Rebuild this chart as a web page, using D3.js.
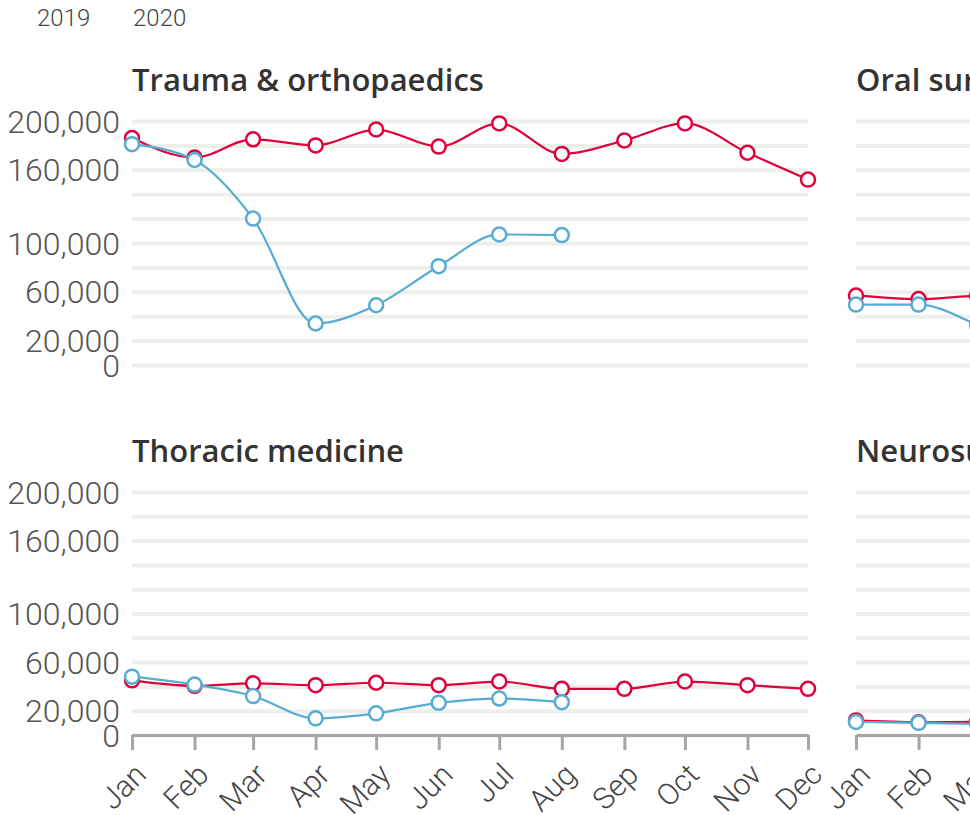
<!DOCTYPE html>
<html>
  <head>
  <title>Monthly activity</title>
  <style>
    body, html { margin: 0; padding: 0; background: #fff; }
    svg { display: block; }
    text { font-family: Roboto, "Liberation Sans", sans-serif; }
    text.title { font-family: "Open Sans", Roboto, sans-serif; }
  </style>
  </head>
  <body>

  <svg id="svg" width="970" height="815"></svg>

  <script src="https://d3js.org/d3.v7.min.js"></script>
  <script>
    // data
    const months = ['Jan', 'Feb', 'Mar', 'Apr', 'May', 'Jun', 'Jul', 'Aug', 'Sep', 'Oct', 'Nov', 'Dec']
    const years = ['2019', '2020']
    const specialties = ['Trauma & orthopaedics', 'Oral surgery', 'Thoracic medicine', 'Neurosurgery']

    const trauma2019 = [186000, 170000, 185000, 180000, 193000, 179000, 198000, 173000, 184000, 198000, 174000, 152000]
    const trauma2020 = [181000, 168000, 120000, 34000, 49000, 81000, 107000, 106500]
    const oral2019 = [57000, 54000, 56500, 55000, 57000, 55000, 58000, 52000, 55000, 58000, 55000, 48000]
    const oral2020 = [49500, 49500, 33000, 8000, 12000, 22000, 30000, 31000]
    const thoracic2019 = [45000, 40500, 42500, 41000, 43000, 41000, 44000, 38000, 38000, 44000, 41000, 38000]
    const thoracic2020 = [48000, 41500, 32000, 13700, 17800, 26500, 30000, 27000]
    const neuro2019 = [12000, 10500, 10800, 10500, 11000, 10500, 11200, 10000, 10500, 11500, 10800, 9800]
    const neuro2020 = [10700, 10000, 9000, 5000, 6000, 7500, 8500, 8500]

    const seriesBySpecialty = [
      [trauma2019, trauma2020],
      [oral2019, oral2020],
      [thoracic2019, thoracic2020],
      [neuro2019, neuro2020]
    ]

    const yTickLabels = [0, 20000, 60000, 100000, 160000, 200000]
    const gridValues = d3.range(0, 200001, 20000)

    const colors = { '2019': '#e0003c', '2020': '#56acd3' }

    const svg = d3.select('#svg')

    // legend (keys sit just above the visible area)
    const legend = svg.append('g')
    legend.selectAll('text')
      .data(years)
      .enter()
      .append('text')
      .attr('x', (d, i) => i === 0 ? 37 : 133)
      .attr('y', 26)
      .attr('font-size', 24)
      .attr('font-weight', 300)
      .attr('fill', '#444')
      .text(d => d)

    const colX = [132, 856]
    const panelWidth = 676
    const rows = [
      { top: 121, bottom: 365, titleY: 91 },
      { top: 492, bottom: 735, titleY: 462 }
    ]

    const dates = months.map((m, i) => new Date(2020, i, 1))

    specialties.forEach((name, k) => {
      const col = k % 2
      const row = rows[Math.floor(k / 2)]
      const isBottom = k >= 2
      const x0 = colX[col]

      const xscale = d3.scaleTime()
        .domain([dates[0], dates[11]])
        .range([x0, x0 + panelWidth])

      const yscale = d3.scaleLinear()
        .domain([0, 200000])
        .range([row.bottom, row.top])

      const g = svg.append('g')

      g.append('text')
        .attr('class', 'title')
        .attr('x', x0)
        .attr('y', row.titleY)
        .attr('font-size', 31)
        .attr('font-weight', 600)
        .attr('fill', '#333')
        .text(name)

      // gridlines
      const grid = d3.axisLeft(yscale)
        .tickValues(gridValues)
        .tickSize(-panelWidth)
        .tickFormat('')
      const gridG = g.append('g')
        .attr('transform', `translate(${x0}, 0)`)
        .call(grid)
      gridG.select('.domain').remove()
      gridG.selectAll('line')
        .attr('stroke', '#edf0ea')
        .attr('stroke-width', 4)

      // y labels, left column only
      if (col === 0) {
        g.append('g')
          .selectAll('text')
          .data(yTickLabels)
          .enter()
          .append('text')
          .attr('x', x0 - 12)
          .attr('y', d => yscale(d))
          .attr('dy', '0.36em')
          .attr('text-anchor', 'end')
          .attr('font-size', 32)
          .attr('font-weight', 300)
          .attr('fill', '#555')
          .text(d => d3.format(',')(d))
      }

      // x axis on bottom row
      if (isBottom) {
        const xAxis = d3.axisBottom(xscale)
          .tickValues(dates)
          .tickSize(15)
          .tickSizeOuter(0)
          .tickFormat((d, i) => months[i])
        const ax = g.append('g')
          .attr('transform', `translate(0, ${row.bottom})`)
          .call(xAxis)
        ax.select('.domain')
          .attr('stroke', '#a8a6a4')
          .attr('stroke-width', 3)
        ax.selectAll('.tick line')
          .attr('stroke', '#a8a6a4')
          .attr('stroke-width', 3)
        ax.selectAll('.tick text')
          .attr('font-size', 30)
          .attr('font-weight', 300)
          .attr('fill', '#444')
          .attr('text-anchor', 'end')
          .attr('x', 0)
          .attr('y', 0)
          .attr('dy', '0.35em')
          .attr('transform', 'translate(8, 34) rotate(-45)')
      }

      const line = d3.line()
        .x((d, i) => xscale(dates[i]))
        .y(d => yscale(d))
        .curve(d3.curveMonotoneX)

      seriesBySpecialty[k].forEach((values, s) => {
        const color = colors[years[s]]
        const sg = g.append('g')
        sg.append('path')
          .datum(values)
          .attr('fill', 'none')
          .attr('stroke', color)
          .attr('stroke-width', 2.2)
          .attr('d', line)
        sg.selectAll('circle')
          .data(values)
          .enter()
          .append('circle')
          .attr('cx', (d, i) => xscale(dates[i]))
          .attr('cy', d => yscale(d))
          .attr('r', 7)
          .attr('fill', '#fff')
          .attr('stroke', color)
          .attr('stroke-width', 2.5)
      })
    })
  </script>
  </body>
</html>
